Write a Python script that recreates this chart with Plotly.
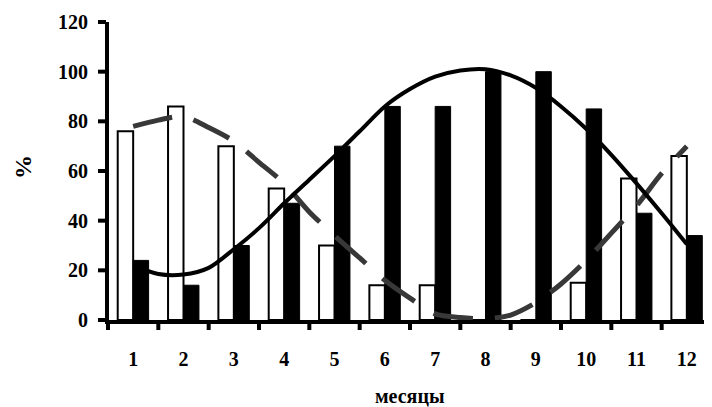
import plotly.graph_objects as go

months = [1, 2, 3, 4, 5, 6, 7, 8, 9, 10, 11, 12]
month_labels = ["1", "2", "3", "4", "5", "6", "7", "8", "9", "10", "11", "12"]
white_vals = [76, 86, 70, 53, 30, 14, 14, 0, 0, 15, 57, 66]
black_vals = [24, 14, 30, 47, 70, 86, 86, 100, 100, 85, 43, 34]

trend_x = [1, 1.5, 2, 2.5, 3, 3.5, 4, 4.5, 5, 5.5, 6, 6.5, 7, 7.5, 8, 8.5, 9, 9.5, 10, 10.5, 11, 11.5, 12]
solid_trend = [22, 18.5, 18.3, 21, 28.5, 37, 47, 56.5, 66, 76, 86, 93, 98, 100.5, 101, 98.5, 93.5, 86, 77, 66.5, 55, 43, 30.5]
dashed_trend = [78, 80.5, 82, 77.5, 72, 63.5, 55, 43.5, 34, 25, 16, 8.8, 2.5, 1, 0.5, 2, 7, 14.5, 24, 35, 46, 59, 70]

y_ticks = [0, 20, 40, 60, 80, 100, 120]
y_labels = ["0", "20", "40", "60", "80", "100", "120"]

FONT = "Liberation Serif"

# ---- layout geometry (figure is 8px smaller than the window: page body margin) ----
W, H = 704, 399
ML, MR, MT, MB = 86, 0, 6, 73
PW, PH = W - ML - MR, H - MT - MB
# axis frame: value 0 sits 6px above the plot bottom, category 0.5 sits 14px right of plot left
PX_PER_CAT = (PW - 14) / 12.0
PX_PER_UNIT = (PH - 14 - 8) / 120.0
X_RANGE = [0.5 - 14 / PX_PER_CAT, 12.5]
Y_RANGE = [-14 / PX_PER_UNIT, 120 + 8 / PX_PER_UNIT]


def dx(px):
    return px / PX_PER_CAT


def dy(px):
    return px / PX_PER_UNIT


fig = go.Figure()
fig.add_trace(go.Bar(x=months, y=white_vals, marker=dict(color="white", line=dict(color="black", width=2))))
fig.add_trace(go.Bar(x=months, y=black_vals, marker=dict(color="black", line=dict(color="black", width=1))))
fig.add_trace(go.Scatter(x=trend_x, y=dashed_trend, mode="lines",
                         line=dict(color="#383838", width=5, dash="40px,22px", shape="spline", smoothing=0.8)))
fig.add_trace(go.Scatter(x=trend_x, y=solid_trend, mode="lines",
                         line=dict(color="black", width=4, shape="spline", smoothing=0.8)))

# axis lines and tick marks (drawn as line traces so they sit on top of the bars)
x0 = 0.5
axis_x = [x0 - dx(1), x0 - dx(1), None, x0 - dx(3), 12.5]
axis_y = [-dy(4), 120, None, -dy(2), -dy(2)]
fig.add_trace(go.Scatter(x=axis_x, y=axis_y, mode="lines", line=dict(color="black", width=4)))
ytx, yty = [], []
for v in y_ticks:
    ytx += [x0 - dx(10), x0 - dx(2), None]
    yty += [v, v, None]
fig.add_trace(go.Scatter(x=ytx, y=yty, mode="lines", line=dict(color="black", width=4)))
xtx, xty = [], []
for b in [months[0] - 0.5] + [m + 0.5 for m in months]:
    xtx += [b, b, None]
    xty += [-dy(3), -dy(10), None]
fig.add_trace(go.Scatter(x=xtx, y=xty, mode="lines", line=dict(color="black", width=4)))

fig.update_layout(
    template="none",
    width=W, height=H,
    margin=dict(l=ML, r=MR, t=MT, b=MB),
    showlegend=False,
    barmode="group", bargap=0.386, bargroupgap=0,
    xaxis=dict(range=X_RANGE, tickmode="array", tickvals=months,
               ticktext=["<b>%s</b>" % t for t in month_labels],
               showline=False, ticks="outside", ticklen=7, tickwidth=1, tickcolor="rgba(255,255,255,0)",
               showgrid=False, zeroline=False,
               tickfont=dict(family=FONT, size=20, color="black")),
    yaxis=dict(range=Y_RANGE, tickmode="array", tickvals=y_ticks,
               ticktext=["<b>%s</b>" % t for t in y_labels],
               showline=False, ticks="outside", ticklen=1, tickwidth=1, tickcolor="rgba(255,255,255,0)",
               showgrid=False, zeroline=False,
               tickfont=dict(family=FONT, size=20, color="black")),
    annotations=[
        dict(text="<b>%</b>", xref="paper", yref="paper", x=(15 - ML) / PW, y=(MT + PH - 159) / PH,
             xanchor="center", yanchor="middle", textangle=-90, showarrow=False,
             font=dict(family=FONT, size=24, color="black")),
        dict(text="<b>месяцы</b>", xref="paper", yref="paper", x=(402 - ML) / PW, y=(MT + PH - 388) / PH,
             xanchor="center", yanchor="middle", showarrow=False,
             font=dict(family=FONT, size=20, color="black")),
    ],
)

fig.write_html("out.html")
